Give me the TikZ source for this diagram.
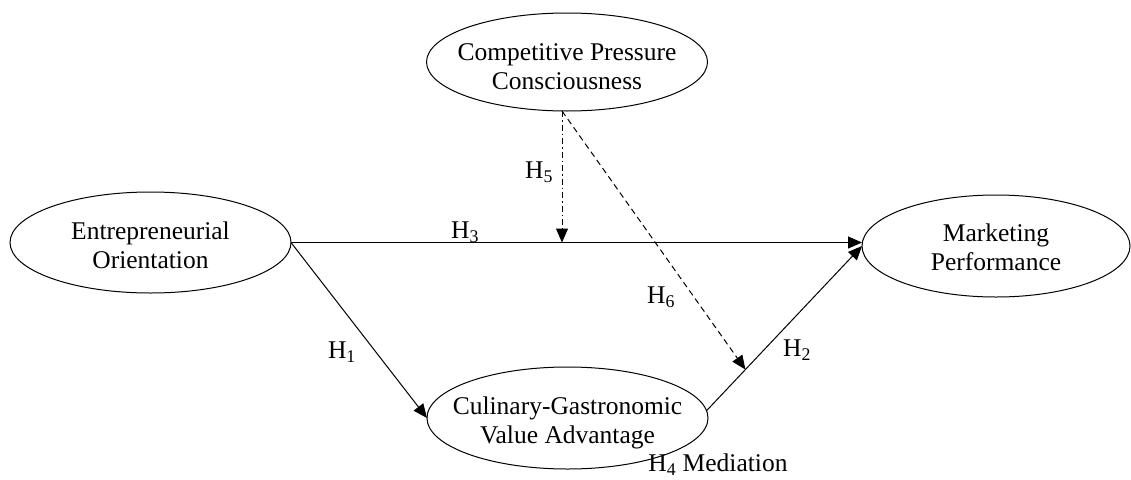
\documentclass[tikz,border=0pt]{standalone}
\usepackage{fontspec}
\setmainfont{Liberation Serif}
\usetikzlibrary{shapes.geometric,arrows.meta,calc}
\begin{document}
\begin{tikzpicture}[x=1pt,y=-1pt,
  every node/.style={font=\fontsize{25.5}{29}\selectfont},
  var/.style={draw, ellipse, line width=1pt, inner sep=0pt, outer sep=0pt},
  txt/.style={align=center},
  link/.style={line width=1pt, -{Triangle[length=14pt,width=12pt]}},
  dashlink/.style={link, dash pattern=on 6pt off 4pt},
  dotlink/.style={link, dash pattern=on 6pt off 3pt on 1.5pt off 3pt},
  hyp/.style={inner sep=0pt}
]
\useasboundingbox (0,0) rectangle (1131,479);

\node[var, minimum width=281pt, minimum height=98pt,
  label={[txt,yshift=-5pt]center:Competitive Pressure\\Consciousness}] (CPC) at (567,62) {};
\node[var, minimum width=281pt, minimum height=101pt,
  label={[txt,yshift=-3pt]center:Entrepreneurial\\Orientation}] (EO) at (150.5,242.5) {};
\node[var, minimum width=268pt, minimum height=102pt,
  label={[txt,yshift=-1pt]center:Marketing\\Performance}] (MP) at (996,246) {};
\node[var, minimum width=281pt, minimum height=102pt,
  label={[txt,yshift=-5pt]center:Culinary-Gastronomic\\Value Advantage}] (CGVA) at (567.5,418) {};

\coordinate (top) at (562,111);
\coordinate (mid) at ($(CGVA.3)!0.25!(MP.west)$);

\draw[link] (EO.east) -- (EO.east -| MP.west);
\draw[link] (EO.east) -- (CGVA.west);
\draw[link] (CGVA.3) -- (MP.west);
\draw[dotlink] (top) -- (top |- EO.east);
\draw[dashlink] (top) -- (mid);

\node[hyp] (h1) at (342,352) {H\textsubscript{1}};
\node[hyp] (h2) at (797,350) {H\textsubscript{2}};
\node[hyp] (h3) at (465,232) {H\textsubscript{3}};
\node[hyp] (h5) at (539,172) {H\textsubscript{5}};
\node[hyp] (h6) at (661,297) {H\textsubscript{6}};
\node[hyp] (h4) at (718,465) {H\textsubscript{4} Mediation};
\end{tikzpicture}
\end{document}
